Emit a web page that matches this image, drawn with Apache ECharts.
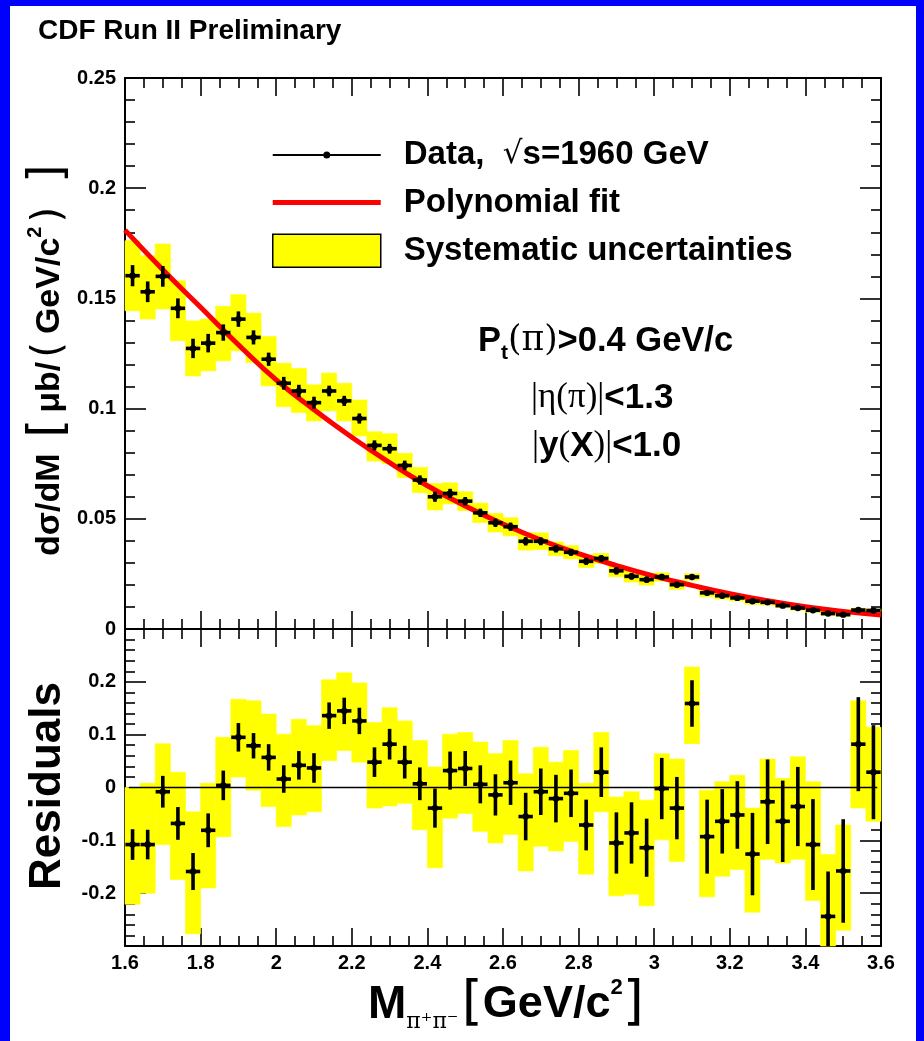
<!DOCTYPE html>
<html>
<head>
<meta charset="utf-8">
<script src="https://cdn.jsdelivr.net/npm/echarts@6/dist/echarts.min.js"></script>
<style>
html,body{margin:0;padding:0;background:#0000ff;}
#chart{width:924px;height:1041px;}
</style>
</head>
<body>
<div id="chart"></div>
<script>
// ---------------- data ----------------
const massCenters = [1.62,1.66,1.70,1.74,1.78,1.82,1.86,1.90,1.94,1.98,
  2.02,2.06,2.10,2.14,2.18,2.22,2.26,2.30,2.34,2.38,
  2.42,2.46,2.50,2.54,2.58,2.62,2.66,2.70,2.74,2.78,
  2.82,2.86,2.90,2.94,2.98,3.02,3.06,3.10,3.14,3.18,
  3.22,3.26,3.30,3.34,3.38,3.42,3.46,3.50,3.54,3.58];
const binHalfWidth = 0.02;

const crossSection = [0.1603,0.1530,0.1600,0.1455,0.1273,0.1297,0.1345,0.1406,0.1323,0.1224,
  0.1115,0.1080,0.1027,0.1080,0.1035,0.0955,0.0833,0.0818,0.0742,0.0676,
  0.0600,0.0615,0.0580,0.0527,0.0482,0.0464,0.0398,0.0398,0.0364,0.0348,
  0.0307,0.0320,0.0264,0.0239,0.0224,0.0236,0.0201,0.0236,0.0164,0.0151,
  0.0141,0.0126,0.0121,0.0106,0.0095,0.0085,0.0070,0.0065,0.0086,0.0084];
const crossStat = [0.0048,0.0047,0.0047,0.0045,0.0044,0.0042,0.0037,0.0035,0.0032,0.0030,
  0.0029,0.0028,0.0027,0.0024,0.0023,0.0023,0.0023,0.0022,0.0022,0.0021,
  0.0023,0.0021,0.0019,0.0019,0.0019,0.0019,0.0019,0.0018,0.0017,0.0016,
  0.0016,0.0015,0.0017,0.0015,0.0014,0.0014,0.0013,0.0009,0.0012,0.0010,
  0.0010,0.0010,0.0010,0.0009,0.0008,0.0008,0.0006,0.0007,0.0007,0.0007];
const crossSystLow = [0.1444,0.1406,0.1452,0.1308,0.1148,0.1171,0.1217,0.1262,0.1209,0.1103,
  0.1009,0.0982,0.0944,0.0990,0.0944,0.0876,0.0762,0.0750,0.0687,0.0619,
  0.0540,0.0567,0.0537,0.0483,0.0440,0.0423,0.0358,0.0360,0.0333,0.0318,
  0.0279,0.0297,0.0237,0.0213,0.0199,0.0217,0.0180,0.0221,0.0146,0.0136,
  0.0127,0.0112,0.0109,0.0097,0.0085,0.0075,0.0062,0.0058,0.0078,0.0078];
const crossSystHigh = [0.1762,0.1694,0.1747,0.1580,0.1398,0.1406,0.1464,0.1517,0.1433,0.1327,
  0.1206,0.1182,0.1108,0.1161,0.1115,0.1039,0.0895,0.0886,0.0797,0.0733,
  0.0660,0.0663,0.0623,0.0571,0.0524,0.0505,0.0438,0.0436,0.0395,0.0378,
  0.0335,0.0343,0.0291,0.0265,0.0249,0.0255,0.0222,0.0251,0.0182,0.0166,
  0.0155,0.0140,0.0133,0.0115,0.0105,0.0095,0.0078,0.0072,0.0094,0.0090];

const fitMass  = [1.60,1.70,1.80,1.90,2.00,2.10,2.20,2.30,2.40,2.50,2.60,2.70,2.80,2.90,3.00,3.10,3.20,3.30,3.40,3.50,3.60];
const fitValue = [0.181,0.163,0.146,0.129,0.113,0.0995,0.087,0.0755,0.065,0.0558,0.0476,0.0404,0.0342,0.0288,0.0240,0.0198,0.0160,0.0128,0.0101,0.0080,0.0064];

const residual = [-0.108,-0.108,-0.008,-0.068,-0.159,-0.081,0.004,0.095,0.079,0.057,
  0.016,0.042,0.037,0.136,0.145,0.126,0.048,0.082,0.048,0.007,
  -0.039,0.032,0.036,0.006,-0.014,0.009,-0.055,-0.008,-0.021,-0.011,
  -0.071,0.029,-0.105,-0.086,-0.114,-0.002,-0.039,0.159,-0.093,-0.064,
  -0.052,-0.126,-0.027,-0.064,-0.036,-0.108,-0.244,-0.158,0.082,0.029];
const residualStat = [0.029,0.028,0.030,0.031,0.035,0.032,0.028,0.027,0.024,0.025,
  0.026,0.027,0.028,0.025,0.025,0.025,0.028,0.029,0.031,0.031,
  0.037,0.036,0.033,0.036,0.039,0.042,0.045,0.044,0.045,0.045,
  0.048,0.047,0.058,0.058,0.055,0.058,0.059,0.044,0.070,0.061,
  0.064,0.078,0.080,0.077,0.075,0.086,0.085,0.098,0.089,0.089];
const residualSystLow = [-0.221,-0.200,-0.108,-0.174,-0.277,-0.190,-0.093,0.020,-0.005,-0.036,
  -0.074,-0.052,-0.046,0.051,0.070,0.048,-0.039,-0.035,-0.030,-0.080,
  -0.152,-0.058,-0.049,-0.083,-0.105,-0.089,-0.158,-0.111,-0.120,-0.102,
  -0.164,-0.046,-0.205,-0.202,-0.224,-0.099,-0.140,0.083,-0.207,-0.168,
  -0.155,-0.236,-0.136,-0.143,-0.136,-0.214,-0.360,-0.270,-0.039,-0.064];
const residualSystHigh = [0.000,0.008,0.083,0.029,-0.046,0.008,0.095,0.167,0.164,0.139,
  0.101,0.129,0.117,0.204,0.217,0.198,0.123,0.151,0.126,0.089,
  0.039,0.101,0.104,0.086,0.064,0.089,0.026,0.076,0.048,0.070,
  0.008,0.104,-0.018,-0.008,-0.024,0.064,0.054,0.228,-0.005,0.011,
  0.023,-0.039,0.054,0.017,0.058,0.011,-0.127,-0.071,0.164,0.114];
const zeroLine = [1.61, 3.59];

const xTicks = {min:1.6, max:3.6, interval:0.2};
const yTopTicks = {min:0, max:0.25, interval:0.05};
const yResTicks = {min:-0.3, max:0.3, interval:0.1};

// ---------------- chart ----------------
const FONT = '"Liberation Sans", Arial, Helvetica, sans-serif';
const chart = echarts.init(document.getElementById('chart'), null, {renderer:'canvas'});

function renderBox(params, api) {
  const cs = params.coordSys;
  const x = api.value(0), lo = api.value(1), hi = api.value(2), hw = api.value(3);
  const p1 = api.coord([x - hw, hi]);
  const p2 = api.coord([x + hw, lo]);
  const r = echarts.graphic.clipRectByRect(
    {x:p1[0], y:p1[1], width:p2[0]-p1[0], height:p2[1]-p1[1]},
    {x:cs.x, y:cs.y, width:cs.width, height:cs.height});
  if (!r) return null;
  return {type:'rect', shape:r, style:{fill:'#ffff00', stroke:'#ffff00', lineWidth:0.6}};
}
function renderCross(params, api) {
  const cs = params.coordSys;
  const x = api.value(0), v = api.value(1), e = api.value(2), hw = api.value(3) * 0.95;
  const c = api.coord([x, v]);
  const l = api.coord([x - hw, v]), r = api.coord([x + hw, v]);
  let top = api.coord([x, v + e])[1], bot = api.coord([x, v - e])[1];
  top = Math.max(top, cs.y); bot = Math.min(bot, cs.y + cs.height);
  return {type:'group', children:[
    {type:'line', shape:{x1:l[0], y1:c[1], x2:r[0], y2:c[1]}, style:{stroke:'#000', lineWidth:3.6}},
    {type:'line', shape:{x1:c[0], y1:top, x2:c[0], y2:bot}, style:{stroke:'#000', lineWidth:3.6}},
    {type:'circle', shape:{cx:c[0], cy:c[1], r:3.2}, style:{fill:'#000'}}
  ]};
}

const labelStyle = {color:'#000', fontSize:20, fontWeight:'bold', fontFamily:FONT};
function xAxisDef(gridIndex, position, showLabel) {
  return {
    type:'value', gridIndex, position, min:xTicks.min, max:xTicks.max, interval:xTicks.interval,
    axisLine:{show:true, onZero:false, lineStyle:{color:'#000', width:2}},
    axisTick:{show:true, inside:true, length:18, lineStyle:{color:'#000', width:1.6}},
    minorTick:{show:true, splitNumber:4, length:10, lineStyle:{color:'#000', width:1.6}},
    splitLine:{show:false}, minorSplitLine:{show:false},
    axisLabel:Object.assign({show:showLabel, margin:7,
      formatter: v => String(parseFloat(v.toFixed(2)))}, labelStyle)
  };
}
function yAxisDef(gridIndex, position, showLabel, t, hideBeyond) {
  return {
    type:'value', gridIndex, position, min:t.min, max:t.max, interval:t.interval,
    axisLine:{show:true, onZero:false, lineStyle:{color:'#000', width:2}},
    axisTick:{show:true, inside:true, length:21, lineStyle:{color:'#000', width:1.6}},
    minorTick:{show:true, splitNumber:5, length:10, lineStyle:{color:'#000', width:1.6}},
    splitLine:{show:false}, minorSplitLine:{show:false},
    axisLabel:Object.assign({show:showLabel, margin:9,
      formatter: v => (hideBeyond != null && Math.abs(v) > hideBeyond) ? '' : String(parseFloat(v.toFixed(2)))}, labelStyle)
  };
}

const topBoxes = massCenters.map((m,i) => [m, crossSystLow[i], crossSystHigh[i], binHalfWidth]);
const topPoints = massCenters.map((m,i) => [m, crossSection[i], crossStat[i], binHalfWidth]);
const resBoxes = massCenters.map((m,i) => [m, residualSystLow[i], residualSystHigh[i], binHalfWidth]);
const resPoints = massCenters.map((m,i) => [m, residual[i], residualStat[i], binHalfWidth]);
const fitData = fitMass.map((m,i) => [m, fitValue[i]]);

const dataIcon = 'path://M0,0L0,0M108,33L108,33M0,15.4H108V17.6H0Z M50.5,16.5A3.5,3.5 0 1 1 57.5,16.5A3.5,3.5 0 1 1 50.5,16.5Z';
const fitIcon = 'path://M0,0L0,0M108,33L108,33M0,14H108V19H0Z';

const option = {
  animation:false,
  backgroundColor:'#0000ff',
  grid:[
    {left:125, top:78, width:756, height:551, outerBoundsMode:'none'},
    {left:125, top:629, width:756, height:317, outerBoundsMode:'none'}
  ],
  xAxis:[
    xAxisDef(0,'bottom',false), xAxisDef(0,'top',false),
    xAxisDef(1,'bottom',true), xAxisDef(1,'top',false)
  ],
  yAxis:[
    yAxisDef(0,'left',true,yTopTicks,null), yAxisDef(0,'right',false,yTopTicks,null),
    yAxisDef(1,'left',true,yResTicks,0.25), yAxisDef(1,'right',false,yResTicks,0.25)
  ],
  legend:{
    left:272, top:138.5, orient:'vertical', padding:0,
    itemWidth:108, itemHeight:33, itemGap:14.5, selectedMode:false,
    symbolKeepAspect:false,
    data:[
      {name:'data', icon:dataIcon, itemStyle:{color:'#000', borderWidth:0}},
      {name:'fit', icon:fitIcon, itemStyle:{color:'#ff0000', borderWidth:0}},
      {name:'syst', icon:'rect', itemStyle:{color:'#ffff00', borderColor:'#000', borderWidth:1.5}}
    ],
    formatter: n => n === 'data' ? '{t|Data,  }{r|√}{t|s=1960 GeV}' :
                    n === 'fit' ? '{t|Polynomial fit}' : '{t|Systematic uncertainties}',
    textStyle:{
      padding:[0,0,0,18], fontSize:33, fontWeight:'bold', fontFamily:FONT, color:'#000',
      rich:{
        t:{fontSize:33, fontWeight:'bold', fontFamily:FONT, color:'#000', lineHeight:33},
        r:{fontSize:31, fontWeight:'normal', fontFamily:'"DejaVu Sans"', color:'#000', lineHeight:33}
      }
    }
  },
  series:[
    {name:'syst', type:'custom', xAxisIndex:0, yAxisIndex:0, data:topBoxes, renderItem:renderBox,
     itemStyle:{color:'#ffff00'}, z:1, silent:true, encode:{x:0, y:[1,2]}},
    {name:'fit', type:'line', xAxisIndex:0, yAxisIndex:0, data:fitData, smooth:true, symbol:'none',
     color:'#ff0000', lineStyle:{color:'#ff0000', width:5}, itemStyle:{color:'#ff0000'}, z:3, silent:true},
    {name:'data', type:'custom', xAxisIndex:0, yAxisIndex:0, data:topPoints, renderItem:renderCross,
     itemStyle:{color:'#000'}, z:4, silent:true, encode:{x:0, y:1}},
    {name:'resSyst', type:'custom', xAxisIndex:2, yAxisIndex:2, data:resBoxes, renderItem:renderBox,
     itemStyle:{color:'#ffff00'}, z:1, silent:true, encode:{x:0, y:[1,2]}},
    {name:'zero', type:'line', xAxisIndex:2, yAxisIndex:2, data:zeroLine.map(m => [m, 0]), symbol:'none',
     lineStyle:{color:'#000', width:1.3}, z:2, silent:true},
    {name:'resData', type:'custom', xAxisIndex:2, yAxisIndex:2, data:resPoints, renderItem:renderCross,
     itemStyle:{color:'#000'}, z:4, silent:true, encode:{x:0, y:1}}
  ],
  graphic:[
    {type:'rect', shape:{x:10, y:6, width:906, height:1035}, style:{fill:'#ffffff'}, z:-100, silent:true},
    {type:'text', x:38, y:31, silent:true,
     style:{text:'CDF Run II Preliminary', font:'bold 28px ' + FONT, fill:'#000', align:'left', verticalAlign:'middle'}},
    {type:'text', x:478, y:341, silent:true,
     style:{text:'{b|P}{sub|t}{n|(π)}{b|>0.4 GeV/c}', align:'left', verticalAlign:'middle',
       rich:{
         b:{fontSize:34.5, fontWeight:'bold', fontFamily:FONT, fill:'#000', lineHeight:46, verticalAlign:'middle'},
         sub:{fontSize:21, fontWeight:'bold', fontFamily:FONT, fill:'#000', lineHeight:21, verticalAlign:'bottom'},
         n:{fontSize:34.5, fontWeight:'normal', fontFamily:'"DejaVu Serif", "Liberation Serif", serif', fill:'#000', lineHeight:46, verticalAlign:'middle'}
       }}},
    {type:'text', x:531, y:398, silent:true,
     style:{text:'{n||η(π)|}{b|<1.3}', align:'left', verticalAlign:'middle',
       rich:{
         b:{fontSize:35, fontWeight:'bold', fontFamily:FONT, fill:'#000', lineHeight:46},
         n:{fontSize:35, fontWeight:'normal', fontFamily:'"Liberation Serif", serif', fill:'#000', lineHeight:46}
       }}},
    {type:'text', x:532, y:446, silent:true,
     style:{text:'{n||}{b|y}{n|(}{b|X}{n|)|}{b|<1.0}', align:'left', verticalAlign:'middle',
       rich:{
         b:{fontSize:35, fontWeight:'bold', fontFamily:FONT, fill:'#000', lineHeight:46},
         n:{fontSize:35, fontWeight:'normal', fontFamily:'"Liberation Serif", serif', fill:'#000', lineHeight:46}
       }}},
    {type:'text', x:50, y:556, rotation:Math.PI/2, silent:true,
     style:{text:'{b|dσ/dM}{k|[}{b|μb/}{p|(}{b|GeV/c}{s|2}{p|)}{k|]}', align:'left', verticalAlign:'middle',
       rich:{
         b:{fontSize:34, fontWeight:'bold', fontFamily:FONT, fill:'#000', lineHeight:50},
         k:{fontSize:48, fontWeight:'normal', fontFamily:'"DejaVu Sans"', fill:'#000', lineHeight:50, padding:[0,6,0,16]},
         p:{fontSize:40, fontWeight:'normal', fontFamily:'"DejaVu Sans"', fill:'#000', lineHeight:50, padding:[0,8,0,4]},
         s:{fontSize:20, fontWeight:'bold', fontFamily:FONT, fill:'#000', lineHeight:24, verticalAlign:'top'}
       }}},
    {type:'text', x:48, y:786, rotation:Math.PI/2, silent:true,
     style:{text:'Residuals', font:'bold 44px ' + FONT, fill:'#000', align:'center', verticalAlign:'middle'}},
    {type:'text', x:368, y:1005, silent:true,
     style:{text:'{m|M}{sub|π⁺π⁻} {k|[}{b|GeV/c}{s|2}{k|]}', align:'left', verticalAlign:'middle',
       rich:{
         m:{fontSize:46, fontWeight:'bold', fontFamily:FONT, fill:'#000', lineHeight:56},
         sub:{fontSize:22, fontWeight:'normal', fontFamily:'"DejaVu Serif", serif', fill:'#000', lineHeight:26, verticalAlign:'bottom'},
         b:{fontSize:45, fontWeight:'bold', fontFamily:FONT, fill:'#000', lineHeight:56},
         k:{fontSize:54, fontWeight:'normal', fontFamily:'"DejaVu Sans"', fill:'#000', lineHeight:56},
         s:{fontSize:22, fontWeight:'bold', fontFamily:FONT, fill:'#000', lineHeight:26, verticalAlign:'top'}
       }}}
  ]
};
chart.setOption(option);
</script>
</body>
</html>
